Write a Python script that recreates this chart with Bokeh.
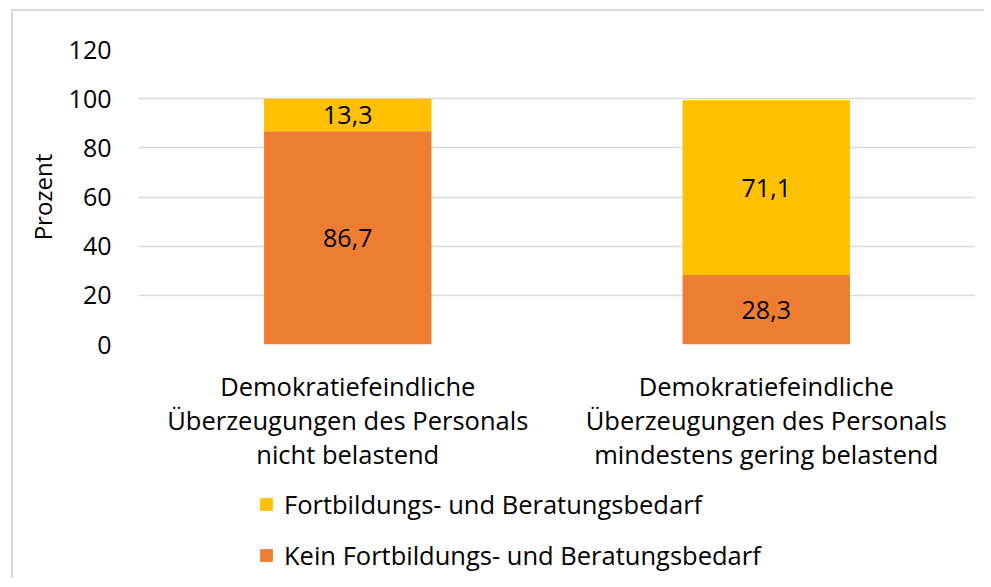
from bokeh.plotting import figure
from bokeh.layouts import column
from bokeh.models import ColumnDataSource, FactorRange, Range1d, Legend, LegendItem, FixedTicker
from bokeh.core.properties import value
from bokeh.embed import file_html
from bokeh.resources import INLINE

categories = ["Demokratiefeindliche\nÜberzeugungen des Personals\nnicht belastend",
              "Demokratiefeindliche\nÜberzeugungen des Personals\nmindestens gering belastend"]
kein = [86.7, 28.3]
fort = [13.3, 71.1]
series_names = ["Kein Fortbildungs- und Beratungsbedarf", "Fortbildungs- und Beratungsbedarf"]
colors = ["#ED7D31", "#FFC000"]
y_ticks = [0, 20, 40, 60, 80, 100, 120]

FONT = "Open Sans"
FS = "25.5px"

src = ColumnDataSource(dict(cat=categories, kein=kein, fort=fort))

p = figure(x_range=FactorRange(*categories), y_range=Range1d(0, 120),
           width=971, height=470, output_backend="svg", toolbar_location=None,
           min_border_left=125, min_border_right=9, min_border_top=38, min_border_bottom=137)
p.outline_line_color = None

rs = p.vbar_stack(["kein", "fort"], x="cat", width=0.4, color=colors, source=src, line_color=None)

# value labels
lab_x, lab_y, lab_t = [], [], []
for i, c in enumerate(categories):
    lab_x += [c, c]
    lab_y += [kein[i] / 2, kein[i] + fort[i] / 2]
    lab_t += [f"{kein[i]:.1f}".replace(".", ","), f"{fort[i]:.1f}".replace(".", ",")]
p.text(x=lab_x, y=lab_y, text=lab_t, text_align="center", text_baseline="middle",
       text_font=value(FONT), text_font_size="25px", text_color="black")

p.xgrid.grid_line_color = None
p.ygrid.grid_line_color = "#D9D9D9"
p.ygrid.grid_line_width = 1.5
p.yaxis.ticker = FixedTicker(ticks=y_ticks)
p.yaxis.axis_line_color = None
p.yaxis.major_tick_line_color = None
p.yaxis.minor_tick_line_color = None
p.yaxis.major_label_standoff = 21
p.yaxis.major_label_text_font = FONT
p.yaxis.major_label_text_font_size = "25px"
p.yaxis.major_label_text_color = "black"
p.yaxis.axis_label = "Prozent"
p.yaxis.axis_label_text_font = FONT
p.yaxis.axis_label_text_font_size = "24px"
p.yaxis.axis_label_text_font_style = "normal"
p.yaxis.axis_label_text_color = "black"
p.yaxis.axis_label_standoff = 7

p.xaxis.axis_line_color = None
p.xaxis.major_tick_line_color = None
p.xaxis.minor_tick_line_color = None
p.xaxis.major_label_standoff = 18
p.xaxis.major_label_text_font = FONT
p.xaxis.major_label_text_font_size = FS
p.xaxis.major_label_text_color = "black"
p.xaxis.major_label_text_line_height = 1.0

# legend panel below the chart; the same series are drawn there outside the visible range
q = figure(width=971, height=97, output_backend="svg", toolbar_location=None,
           x_axis_location=None, y_axis_location=None,
           min_border_left=0, min_border_right=0, min_border_top=0, min_border_bottom=0,
           x_range=FactorRange(*categories), y_range=Range1d(1000, 1001))
q.outline_line_color = None
q.grid.visible = False
qs = q.vbar_stack(["kein", "fort"], x="cat", width=0.4, color=colors, source=src, line_color=None)

legend = Legend(items=[LegendItem(label=series_names[1], renderers=[qs[1]]),
                       LegendItem(label=series_names[0], renderers=[qs[0]])],
                location=(120, 6), orientation="vertical",
                glyph_width=16, glyph_height=16, label_height=35, spacing=16,
                label_standoff=10, padding=0, margin=0,
                border_line_color=None, background_fill_alpha=0,
                label_text_font=FONT, label_text_font_size=FS, label_text_color="black")
q.add_layout(legend, "center")

layout = column(p, q, spacing=0)
layout.styles = {"border-left": "2px solid #D9D9D9", "border-top": "2px solid #D9D9D9",
                 "margin-left": "11px", "margin-top": "9px"}

open("out.html", "w").write(file_html(layout, INLINE))
